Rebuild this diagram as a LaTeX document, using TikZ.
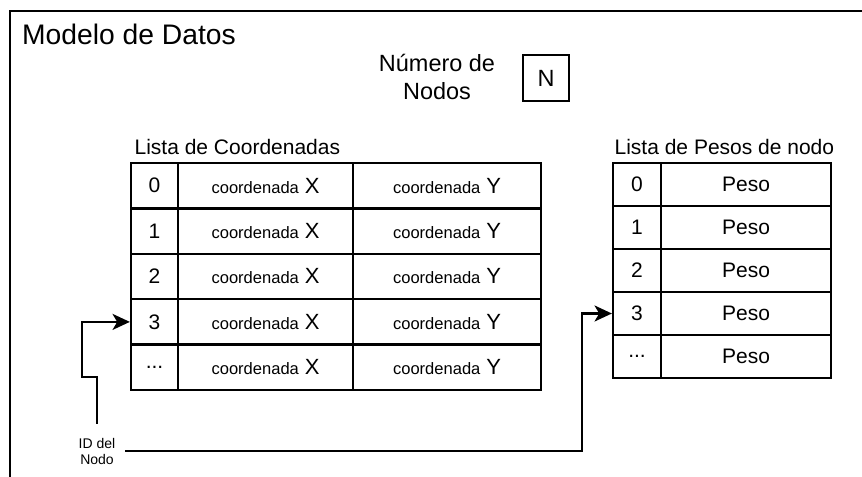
\documentclass[tikz,border=0pt]{standalone}
\usepackage{fontspec}
\setmainfont{Liberation Sans}
\usetikzlibrary{arrows.meta}
% cell text: small word followed by a larger axis letter
\newcommand\coordtxt[1]{{\fontsize{12.4pt}{14pt}\selectfont coordenada} {\fontsize{16.5pt}{18pt}\selectfont #1}}
\begin{document}
\begin{tikzpicture}[x=0.75pt,y=-0.75pt,line width=1.7pt,
  cellfont/.style={font=\fontsize{15.75pt}{18pt}\selectfont},
  lcell/.style={draw,inner sep=0pt,minimum height=34.05pt,cellfont},
  rcell/.style={draw,inner sep=0pt,minimum height=32.25pt,cellfont},
  lidx/.style={lcell,minimum width=35.25pt},
  lx/.style={lcell,minimum width=131.25pt},
  ly/.style={lcell,minimum width=141pt},
  ridx/.style={rcell,minimum width=36pt},
  rval/.style={rcell,minimum width=127.5pt},
  listtitle/.style={anchor=base west,inner sep=0pt,font=\fontsize{15.75pt}{18pt}\selectfont},
  bigtext/.style={anchor=base,inner sep=0pt,font=\fontsize{17.6pt}{21pt}\selectfont},
  pointer/.style={line width=1.7pt,-{Stealth[length=13pt,width=12pt,inset=3.5pt]}}
]
\clip (0,0) rectangle (862,477);

% outer frame (open towards the right and bottom)
\draw[line width=2.2pt] (10,500) -- (10,11) -- (880,11);

% headings
\node[anchor=base west,inner sep=0pt,font=\fontsize{21.2pt}{25pt}\selectfont] (title) at (21,45) {Modelo de Datos};
\node[bigtext] (numA) at (437,72) {Número de};
\node[bigtext] (numB) at (437,100) {Nodos};
\node[draw,inner sep=0pt,minimum size=34.5pt,font=\fontsize{17.6pt}{21pt}\selectfont] (nbox) at (546,78) {N};

% coordinate list
\node[listtitle] (ltitle) at (133.5,155) {Lista de Coordenadas};
\node[lidx] (L0) at (154.5,185.7) {0};
\node[lx]   (L0x) at (265.5,185.7) {\coordtxt{X}};
\node[ly]   (L0y) at (447,185.7) {\coordtxt{Y}};
\node[lidx] (L1) at (154.5,231.1) {1};
\node[lx]   (L1x) at (265.5,231.1) {\coordtxt{X}};
\node[ly]   (L1y) at (447,231.1) {\coordtxt{Y}};
\node[lidx] (L2) at (154.5,276.5) {2};
\node[lx]   (L2x) at (265.5,276.5) {\coordtxt{X}};
\node[ly]   (L2y) at (447,276.5) {\coordtxt{Y}};
\node[lidx] (L3) at (154.5,321.9) {3};
\node[lx]   (L3x) at (265.5,321.9) {\coordtxt{X}};
\node[ly]   (L3y) at (447,321.9) {\coordtxt{Y}};
\node[lidx] (L4) at (154.5,367.3) {...};
\node[lx]   (L4x) at (265.5,367.3) {\coordtxt{X}};
\node[ly]   (L4y) at (447,367.3) {\coordtxt{Y}};

% weight list
\node[listtitle] (rtitle) at (613.5,155) {Lista de Pesos de nodo};
\node[ridx] (R0) at (637,184.5) {0};
\node[rval] (R0v) at (746,184.5) {Peso};
\node[ridx] (R1) at (637,227.5) {1};
\node[rval] (R1v) at (746,227.5) {Peso};
\node[ridx] (R2) at (637,270.5) {2};
\node[rval] (R2v) at (746,270.5) {Peso};
\node[ridx] (R3) at (637,313.5) {3};
\node[rval] (R3v) at (746,313.5) {Peso};
\node[ridx] (R4) at (637,356.5) {...};
\node[rval] (R4v) at (746,356.5) {Peso};

% node identifier and its two pointers
\node[align=center,inner sep=0pt,minimum width=40.5pt,minimum height=39pt,
      font=\fontsize{10.5pt}{12pt}\selectfont] (id) at (97,451) {ID del\\Nodo};
\coordinate (stepA) at (82,377);
\coordinate (stepB) at (582,451);
\draw[pointer] (id.north) |- (stepA) |- (L3.west);
\draw[pointer] (id.east) -- (stepB) |- (R3.west);
\end{tikzpicture}
\end{document}
